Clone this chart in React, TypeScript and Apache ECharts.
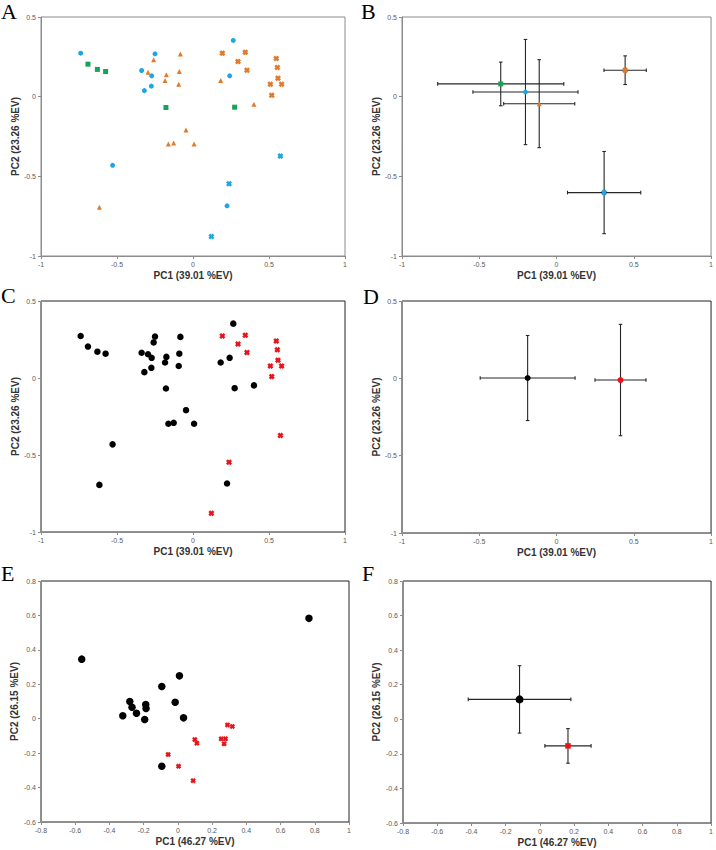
import React, { useEffect, useRef } from "react";
import * as echarts from "echarts";

// ---------- Panel A / C : individual PCA scores (PC1 39.01 %, PC2 23.26 %) ----------
const aBlueCircles: number[][] = [
  [-0.739, 0.273], [-0.25, 0.269], [-0.338, 0.164], [-0.272, 0.131], [-0.32, 0.038],
  [-0.274, 0.066], [0.265, 0.353], [0.241, 0.131], [-0.529, -0.431], [0.224, -0.685],
];
const aBlueCrosses: number[][] = [[0.575, -0.373], [0.237, -0.547], [0.121, -0.878]];
const aGreenSquares: number[][] = [
  [-0.691, 0.204], [-0.629, 0.171], [-0.575, 0.158], [-0.178, -0.068], [0.274, -0.066],
];
const aOrangeTriangles: number[][] = [
  [-0.259, 0.231], [-0.083, 0.267], [-0.296, 0.154], [-0.175, 0.137], [-0.09, 0.158],
  [-0.184, 0.101], [-0.094, 0.078], [0.182, 0.101], [0.401, -0.048], [-0.046, -0.209],
  [-0.162, -0.297], [-0.127, -0.291], [0.007, -0.297], [-0.616, -0.694],
];
const aOrangeCrosses: number[][] = [
  [0.193, 0.273], [0.344, 0.278], [0.296, 0.221], [0.355, 0.166], [0.548, 0.24],
  [0.555, 0.183], [0.559, 0.116], [0.509, 0.078], [0.583, 0.078], [0.518, 0.009],
];

// ---------- Panel B : group means ± SD ----------
const bGroups = ["green", "blueCircle", "orangeTriangle", "orangeCross", "blueCross"];
const bMeanX = [-0.361, -0.201, -0.112, 0.444, 0.308];
const bMeanY = [0.08, 0.029, -0.044, 0.166, -0.602];
const bSdX = [0.408, 0.34, 0.23, 0.137, 0.237];
const bSdY = [0.137, 0.33, 0.276, 0.09, 0.258];

// ---------- Panel D : two-group means ± SD ----------
const dMeanX = [-0.187, 0.414];
const dMeanY = [0.002, -0.011];
const dSdX = [0.307, 0.165];
const dSdY = [0.275, 0.36];

// ---------- Panel E : individual PCA scores (PC1 46.27 %, PC2 26.15 %) ----------
const eBlack: number[][] = [
  [0.766, 0.583], [-0.562, 0.346], [0.009, 0.249], [-0.094, 0.187], [-0.281, 0.1],
  [-0.268, 0.067], [-0.188, 0.083], [-0.186, 0.059], [-0.242, 0.032], [-0.322, 0.017],
  [-0.194, -0.005], [-0.016, 0.096], [0.033, 0.005], [-0.094, -0.276],
];
const eRed: number[][] = [
  [0.29, -0.036], [0.318, -0.045], [0.099, -0.121], [0.111, -0.142], [0.253, -0.117],
  [0.278, -0.117], [0.27, -0.146], [-0.057, -0.208], [0.004, -0.276], [0.089, -0.36],
];

// ---------- Panel F : two-group means ± SD ----------
const fMeanX = [-0.119, 0.164];
const fMeanY = [0.115, -0.154];
const fSdX = [0.3, 0.135];
const fSdY = [0.195, 0.1];

// ---------- axis texts ----------
const xTitleTop = "PC1 (39.01 %EV)";
const yTitleTop = "PC2 (23.26 %EV)";
const xTitleBottom = "PC1 (46.27 %EV)";
const yTitleBottom = "PC2 (26.15 %EV)";
const panelLetters = ["A", "B", "C", "D", "E", "F"];

const BLUE = "#1ea6e2";
const ORANGE = "#e27a2a";
const GREEN = "#17a458";
const RED = "#e8141b";
const BLACK = "#000000";
const CROSS = "path://M0,3L3,0L5,2L7,0L10,3L8,5L10,7L7,10L5,8L3,10L0,7L2,5Z";
const FONT = "Liberation Sans, Arial, sans-serif";

const groupStyle: Record<string, { color: string; symbol: string; size: number }> = {
  green: { color: GREEN, symbol: "rect", size: 5 },
  blueCircle: { color: BLUE, symbol: "circle", size: 5 },
  orangeTriangle: { color: ORANGE, symbol: "triangle", size: 5 },
  orangeCross: { color: ORANGE, symbol: CROSS, size: 6 },
  blueCross: { color: BLUE, symbol: CROSS, size: 6 },
};

export default function App() {
  const ref = useRef<HTMLDivElement>(null);

  useEffect(() => {
    if (!ref.current) return;
    const chart = echarts.init(ref.current, null, { renderer: "svg" });

    const grids = [
      { left: 41, top: 17, width: 304, height: 239, borderColor: "#8c8c8c" },
      { left: 402, top: 17, width: 312, height: 239, borderColor: "#8c8c8c" },
      { left: 41, top: 301, width: 304, height: 231, borderColor: "#222" },
      { left: 402, top: 301, width: 312, height: 232, borderColor: "#222" },
      { left: 41, top: 581, width: 308, height: 241, borderColor: "#222" },
      { left: 403, top: 581, width: 312, height: 242, borderColor: "#222" },
    ].map((g) => ({ ...g, show: true, borderWidth: 1, containLabel: false }));

    const axisCommon = {
      type: "value" as const,
      nameLocation: "middle" as const,
      nameTextStyle: { fontWeight: "bold" as const, fontSize: 10, color: "#333", fontFamily: FONT },
      axisLine: { show: true, onZero: false, lineStyle: { color: "#8c8c8c", width: 1 } },
      axisTick: { show: true, length: 3, lineStyle: { color: "#8c8c8c" } },
      axisLabel: { fontSize: 7, color: "#595959", fontFamily: FONT, margin: 5 },
      splitLine: { show: false },
    };

    const xAxes = [0, 1, 2, 3, 4, 5].map((i) => {
      const bottom = i >= 4;
      return {
        ...axisCommon,
        gridIndex: i,
        min: bottom ? -0.8 : -1,
        max: 1,
        interval: bottom ? 0.2 : 0.5,
        name: bottom ? xTitleBottom : xTitleTop,
        nameGap: 14,
      };
    });
    const yAxes = [0, 1, 2, 3, 4, 5].map((i) => {
      const bottom = i >= 4;
      return {
        ...axisCommon,
        gridIndex: i,
        min: bottom ? -0.6 : -1,
        max: bottom ? 0.8 : 0.5,
        interval: bottom ? 0.2 : 0.5,
        name: bottom ? yTitleBottom : yTitleTop,
        nameGap: bottom ? 22 : 20,
      };
    });

    const scatter = (idx: number, data: number[][], color: string, symbol: string, size: number) => ({
      type: "scatter" as const,
      xAxisIndex: idx,
      yAxisIndex: idx,
      data,
      symbol,
      symbolSize: size,
      itemStyle: { color, opacity: 1 },
      z: 3,
    });

    const errorBars = (idx: number, mx: number[], my: number[], sx: number[], sy: number[]) => ({
      type: "custom" as const,
      xAxisIndex: idx,
      yAxisIndex: idx,
      encode: { x: 0, y: 1 },
      data: mx.map((x, i) => [x, my[i], sx[i], sy[i]]),
      z: 2,
      renderItem: (_p: any, api: any) => {
        const x = api.value(0), y = api.value(1), ex = api.value(2), ey = api.value(3);
        const l = api.coord([x - ex, y]);
        const r = api.coord([x + ex, y]);
        const t = api.coord([x, y + ey]);
        const b = api.coord([x, y - ey]);
        const st = { stroke: "#262626", lineWidth: 1.1 };
        const c = 1.8;
        const ln = (x1: number, y1: number, x2: number, y2: number) => ({
          type: "line",
          shape: { x1, y1, x2, y2 },
          style: st,
        });
        return {
          type: "group",
          children: [
            ln(l[0], l[1], r[0], r[1]),
            ln(t[0], t[1], b[0], b[1]),
            ln(l[0], l[1] - c, l[0], l[1] + c),
            ln(r[0], r[1] - c, r[0], r[1] + c),
            ln(t[0] - c, t[1], t[0] + c, t[1]),
            ln(b[0] - c, b[1], b[0] + c, b[1]),
          ],
        };
      },
    });

    const series: any[] = [];
    // A
    series.push(scatter(0, aBlueCircles, BLUE, "circle", 5));
    series.push(scatter(0, aBlueCrosses, BLUE, CROSS, 6));
    series.push(scatter(0, aGreenSquares, GREEN, "rect", 5));
    series.push(scatter(0, aOrangeTriangles, ORANGE, "triangle", 5));
    series.push(scatter(0, aOrangeCrosses, ORANGE, CROSS, 6));
    // B
    series.push(errorBars(1, bMeanX, bMeanY, bSdX, bSdY));
    bGroups.forEach((g, i) => {
      const s = groupStyle[g];
      series.push(scatter(1, [[bMeanX[i], bMeanY[i]]], s.color, s.symbol, s.size));
    });
    // C
    series.push(scatter(2, [...aBlueCircles, ...aGreenSquares, ...aOrangeTriangles], BLACK, "circle", 6.5));
    series.push(scatter(2, [...aOrangeCrosses, ...aBlueCrosses], RED, CROSS, 6));
    // D
    series.push(errorBars(3, dMeanX, dMeanY, dSdX, dSdY));
    series.push(scatter(3, [[dMeanX[0], dMeanY[0]]], BLACK, "circle", 6));
    series.push(scatter(3, [[dMeanX[1], dMeanY[1]]], RED, "circle", 6));
    // E
    series.push(scatter(4, eBlack, BLACK, "circle", 7.5));
    series.push(scatter(4, eRed, RED, CROSS, 5.5));
    // F
    series.push(errorBars(5, fMeanX, fMeanY, fSdX, fSdY));
    series.push(scatter(5, [[fMeanX[0], fMeanY[0]]], BLACK, "circle", 8));
    series.push(scatter(5, [[fMeanX[1], fMeanY[1]]], RED, "rect", 5.5));

    const letterPos = [
      [1, 0], [361, 0], [1, 284], [363, 285], [1, 562], [362, 562],
    ];
    const graphic = panelLetters.map((L, i) => ({
      type: "text",
      left: letterPos[i][0],
      top: letterPos[i][1],
      style: {
        text: L,
        fontSize: 22,
        fontFamily: "Liberation Serif, Times New Roman, serif",
        fill: "#000",
      },
      z: 10,
    }));

    chart.setOption({
      animation: false,
      backgroundColor: "#fff",
      grid: grids,
      xAxis: xAxes,
      yAxis: yAxes,
      series,
      graphic,
    });

    return () => chart.dispose();
  }, []);

  return (
    <div
      ref={ref}
      style={{ position: "absolute", left: 0, top: 0, width: 716, height: 850 }}
    />
  );
}
